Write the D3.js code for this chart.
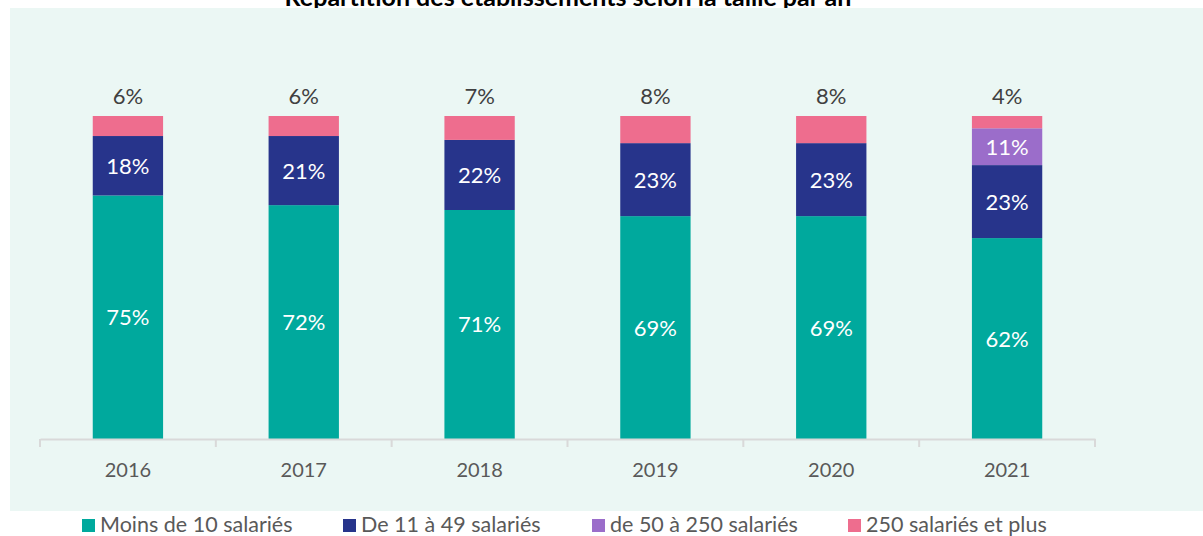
<!DOCTYPE html>
<html>
<head>
<meta charset="utf-8">
<script src="https://cdn.jsdelivr.net/npm/d3@7"></script>
<style>
  body { margin: 0; background: #fff; }
  text { font-family: Lato, "Open Sans", sans-serif; }
</style>
</head>
<body>
<svg class="chart"></svg>
<script>
// data (percent of establishments)
var years = ["2016", "2017", "2018", "2019", "2020", "2021"];
var moins10 = [75.4, 72.4, 70.9, 69.0, 69.0, 62.2];
var de11a49 = [18.4, 21.4, 21.7, 22.6, 22.6, 22.6];
var de50a250 = [0, 0, 0, 0, 0, 11.4];
var plus250 = [6.2, 6.2, 7.4, 8.4, 8.4, 3.8];
var seriesNames = ["Moins de 10 salariés", "De 11 à 49 salariés", "de 50 à 250 salariés", "250 salariés et plus"];
var title = "Répartition des établissements selon la taille par an";

(function () {
  var width = 1203, height = 536;
  var colors = ["#00a99d", "#27348b", "#9b6dca", "#ee6d8e"];
  var keys = ["a", "b", "c", "d"];

  var rows = years.map(function (y, i) {
    return { year: y, a: moins10[i], b: de11a49[i], c: de50a250[i], d: plus250[i] };
  });

  var svg = d3.select('.chart')
    .attr('width', width)
    .attr('height', height);

  // title sits partly under the panel, like in the original export
  svg.append('text')
    .attr('x', 568)
    .attr('y', 6)
    .attr('text-anchor', 'middle')
    .style('font-weight', 'bold')
    .style('font-size', '25px')
    .attr('fill', '#000')
    .text(title);

  svg.append('rect')
    .attr('x', 10).attr('y', 8)
    .attr('width', width - 10).attr('height', 503)
    .attr('fill', '#ebf7f4');

  var x = d3.scaleBand()
    .domain(years)
    .range([40, 1095])
    .paddingInner(0.6)
    .paddingOuter(0.3);

  var y = d3.scaleLinear()
    .domain([0, 100])
    .range([439, 116]);

  var stack = d3.stack().keys(keys)(rows);

  var layer = svg.selectAll('g.layer')
    .data(stack)
    .enter().append('g')
    .attr('class', 'layer')
    .attr('fill', function (d, i) { return colors[i]; });

  layer.selectAll('rect')
    .data(function (d) { return d; })
    .enter().append('rect')
    .attr('x', function (d) { return x(d.data.year); })
    .attr('y', function (d) { return y(d[1]); })
    .attr('width', x.bandwidth())
    .attr('height', function (d) { return y(d[0]) - y(d[1]); });

  // labels
  stack.forEach(function (s, si) {
    s.forEach(function (d) {
      var v = d[1] - d[0];
      if (v <= 0) return;
      var cx = x(d.data.year) + x.bandwidth() / 2;
      var t = svg.append('text')
        .attr('x', cx)
        .attr('text-anchor', 'middle')
        .style('font-size', '22px')
        .text(Math.round(v) + '%');
      if (si === 3) {
        t.attr('y', y(d[1]) - 12).attr('fill', '#404040');
      } else {
        t.attr('y', (y(d[0]) + y(d[1])) / 2 + 8).attr('fill', '#fff');
      }
    });
  });

  // x axis
  var xAxis = d3.axisBottom(x).tickSize(0).tickPadding(24);
  var ax = svg.append('g')
    .attr('class', 'x axis')
    .attr('transform', 'translate(0,' + y(0) + ')')
    .call(xAxis);
  ax.select('.domain').attr('stroke', '#d9d9d9').attr('stroke-width', 2);
  ax.selectAll('text')
    .style('font-size', '20px')
    .style('font-family', 'Lato, sans-serif')
    .attr('fill', '#595959');

  // ticks between the categories
  var half = x.step() * x.paddingInner() / 2;
  var edges = years.map(function (yr) { return x(yr) - half; });
  edges.push(x(years[years.length - 1]) + x.bandwidth() + half);
  ax.selectAll('line.sep')
    .data(edges)
    .enter().append('line')
    .attr('class', 'sep')
    .attr('x1', function (d) { return d; })
    .attr('x2', function (d) { return d; })
    .attr('y1', 0).attr('y2', 8)
    .attr('stroke', '#d9d9d9')
    .attr('stroke-width', 2);

  // legend
  var legendX = [82, 343, 592, 848];
  var lg = svg.selectAll('g.legend')
    .data(seriesNames)
    .enter().append('g')
    .attr('class', 'legend')
    .attr('transform', function (d, i) { return 'translate(' + legendX[i] + ',519)'; });
  lg.append('rect')
    .attr('width', 13).attr('height', 13)
    .attr('fill', function (d, i) { return colors[i]; });
  lg.append('text')
    .attr('x', 18).attr('y', 13)
    .style('font-size', '21.5px')
    .attr('fill', '#595959')
    .text(function (d) { return d; });
})();
</script>
</body>
</html>
